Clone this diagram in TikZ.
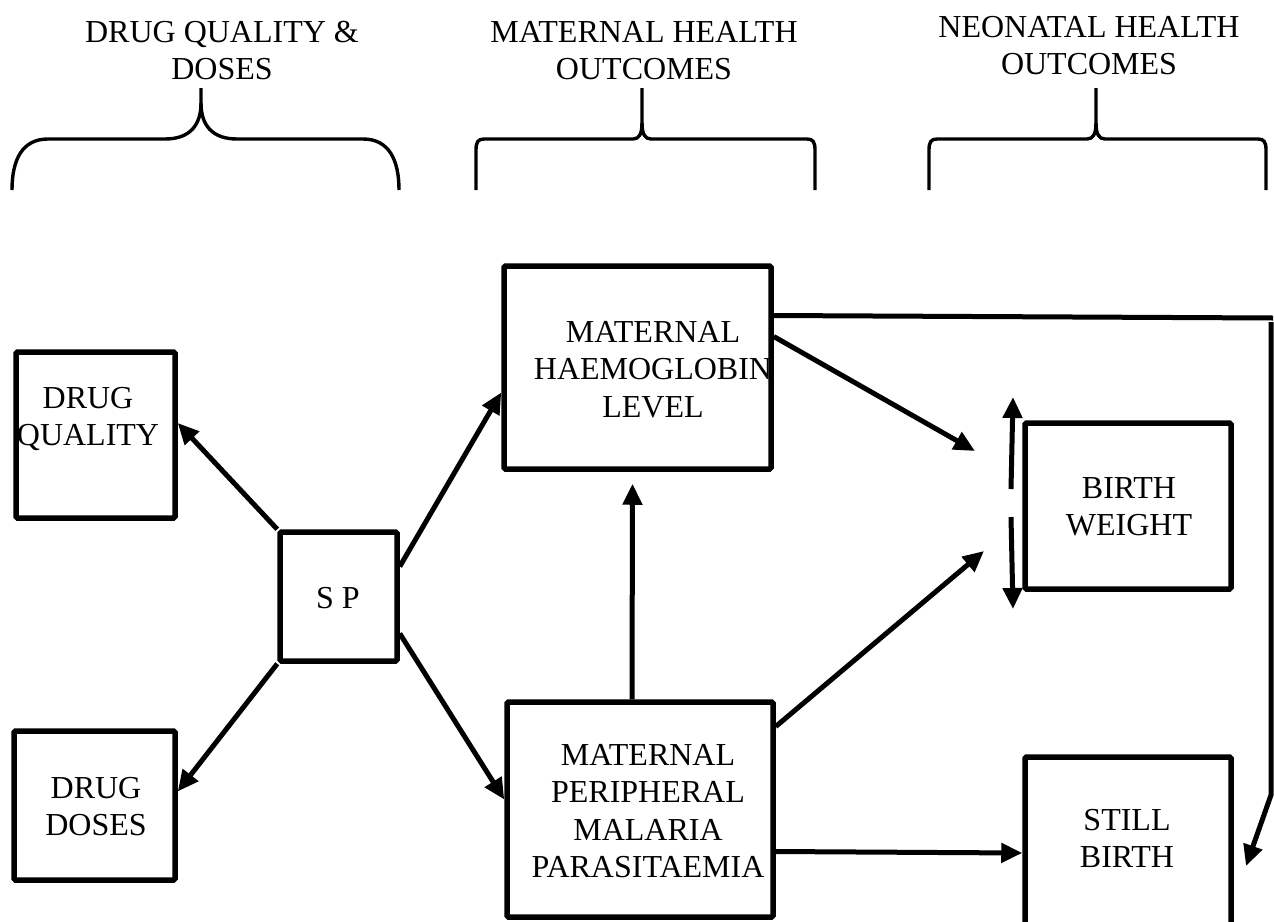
\documentclass[tikz,border=0pt]{standalone}
\usepackage{fontspec}
\setmainfont{Liberation Serif}
\usetikzlibrary{arrows.meta,calc}
\tikzset{
  boxnode/.style={draw=black, line width=5.5pt, rounded corners=1.5pt, inner sep=0pt, fill=none},
  txt/.style={inner sep=0pt, align=center, anchor=north, font=\fontsize{32}{37.5}\selectfont},
  arr/.style={line width=5pt, -{Triangle[length=21pt,width=19pt]}},
  plainline/.style={line width=5pt},
  bracelinestyle/.style={line width=3.4pt, line cap=butt}
}
\begin{document}
\begin{tikzpicture}[x=1pt,y=-1pt]
\clip (0,0) rectangle (1274,921);
\fill[white] (0,0) rectangle (1274,921);

% headings
\node[txt] (h1) at (222,21) {DRUG QUALITY \&\\DOSES};
\node[txt] (h2) at (644,21) {MATERNAL HEALTH\\OUTCOMES};
\node[txt] (h3) at (1089,16) {NEONATAL HEALTH\\OUTCOMES};

% braces
\draw[bracelinestyle] (12,190) .. controls (12,160) and (22,139) .. (48,139) -- (165,139)
  .. controls (190,139) and (201,125) .. (201,103) -- (201,88);
\draw[bracelinestyle] (201,103) .. controls (201,125) and (212,139) .. (237,139) -- (363,139)
  .. controls (389,139) and (399,160) .. (399,190);

\draw[bracelinestyle] (476,190) -- (476,150) .. controls (476,142) and (478,139) .. (484,139) -- (633,139)
  .. controls (639,139) and (642,134) .. (642,123) -- (642,88);
\draw[bracelinestyle] (642,123) .. controls (642,134) and (645,139) .. (651,139) -- (807,139)
  .. controls (813,139) and (815,142) .. (815,150) -- (815,190);

\draw[bracelinestyle] (929,190) -- (929,150) .. controls (929,142) and (931,139) .. (937,139) -- (1087,139)
  .. controls (1093,139) and (1096,134) .. (1096,123) -- (1096,88);
\draw[bracelinestyle] (1096,123) .. controls (1096,134) and (1099,139) .. (1105,139) -- (1258,139)
  .. controls (1264,139) and (1266,142) .. (1266,150) -- (1266,190);

% boxes
\node[boxnode, minimum width=159pt, minimum height=166pt] (dq) at (95.5,435) {};
\node[txt] (dqt) at (88,387) {DRUG\\QUALITY};

\node[boxnode, minimum width=117pt, minimum height=129pt] (sp) at (338.5,596.5) {};
\node[txt] (spt) at (338,587) {S P};

\node[boxnode, minimum width=161pt, minimum height=149pt] (dd) at (94.5,805.5) {};
\node[txt] (ddt) at (96,777) {DRUG\\DOSES};

\node[boxnode, minimum width=267pt, minimum height=203pt] (mh) at (637.5,367.5) {};
\node[txt] (mht) at (653,321) {MATERNAL\\HAEMOGLOBIN\\LEVEL};

\node[boxnode, minimum width=266pt, minimum height=215pt] (mp) at (640,809.5) {};
\node[txt] (mpt) at (648,744) {MATERNAL\\PERIPHERAL\\MALARIA\\PARASITAEMIA};

\node[boxnode, minimum width=206pt, minimum height=166pt] (bw) at (1128,506) {};
\node[txt] (bwt) at (1129,477) {BIRTH\\WEIGHT};

\node[boxnode, minimum width=206pt, minimum height=200pt] (sb) at (1128,857) {};
\node[txt] (sbt) at (1127,809) {STILL\\BIRTH};

% coordinates for free ends
\coordinate (bwin1) at (975,451);
\coordinate (bwin2) at (984,551);
\coordinate (upA) at (1011,489);
\coordinate (upB) at (1013,397);
\coordinate (dnA) at (1011,517);
\coordinate (dnB) at (1013,609);
\coordinate (r1) at (1273,318);
\coordinate (r2) at (1271,322);
\coordinate (r3) at (1271,795);
\coordinate (r4) at (1246,866);

% connectors
\draw[arr] (sp.north west) -- ([shift={(0,-12)}]dq.east);
\draw[arr] (sp.south west) -- ([shift={(0,-14)}]dd.east);
\draw[arr] ([shift={(0,-30)}]sp.east) -- ([shift={(0,25)}]mh.west);
\draw[arr] ([shift={(0,37)}]sp.east) -- ([shift={(0,-10)}]mp.west);
\draw[arr] ([shift={(-8,0)}]mp.north) -- ([shift={(-5,12)}]mh.south);
\draw[arr] ([shift={(0,-31)}]mh.east) -- (bwin1);
\draw[arr] ([shift={(0,-83)}]mp.east) -- (bwin2);
\draw[arr] ([shift={(0,42)}]mp.east) -- ([shift={(0,-4)}]sb.west);
\draw[plainline] ([shift={(0,-52)}]mh.east) -- (r1);
\draw[arr] (r2) -- (r3) -- (r4);
\draw[arr] (upA) -- (upB);
\draw[arr] (dnA) -- (dnB);
\end{tikzpicture}
\end{document}
